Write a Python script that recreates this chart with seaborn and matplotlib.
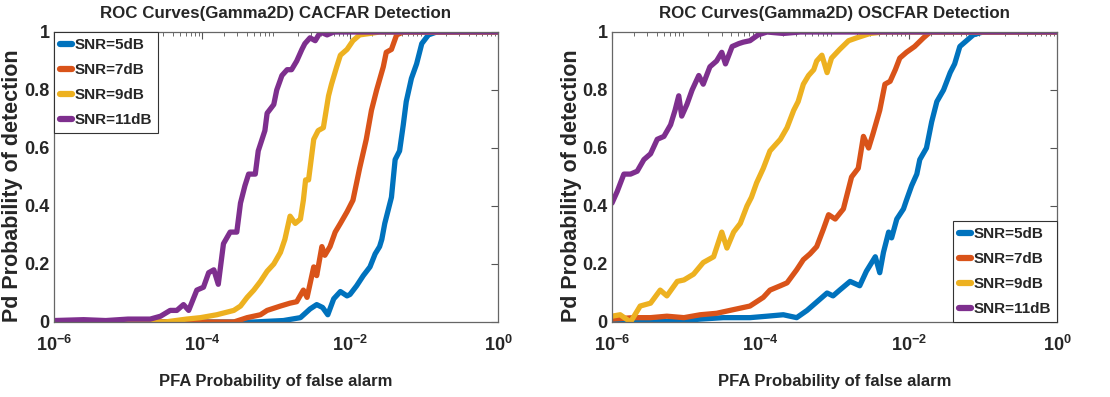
import numpy as np
import pandas as pd
import matplotlib
matplotlib.use("Agg")
import matplotlib.pyplot as plt
import seaborn as sns
from matplotlib import font_manager
from matplotlib.ticker import LogLocator, NullFormatter, LogFormatterSciNotation

# ---------------- data (log10 of PFA, Pd) ----------------
titles = ["ROC Curves(Gamma2D) CACFAR Detection", "ROC Curves(Gamma2D) OSCFAR Detection"]
labels = ["SNR=5dB", "SNR=7dB", "SNR=9dB", "SNR=11dB"]
colors = ["#0072BD", "#D95319", "#EDB120", "#7E2F8E"]
xlabel = "PFA Probability of false alarm"
ylabel = "Pd Probability of detection"
yticks = [0, 0.2, 0.4, 0.6, 0.8, 1.0]
ytick_labels = ["0", "0.2", "0.4", "0.6", "0.8", "1"]

# CA-CFAR
ca5_lx = [-6, -4.5, -3.3, -2.9, -2.67, -2.54, -2.45, -2.37, -2.30, -2.22, -2.13, -2.04, -2.00, -1.91, -1.82, -1.73,
          -1.66, -1.60, -1.57, -1.53, -1.48, -1.44, -1.39, -1.33, -1.28, -1.24, -1.17, -1.10, -1.03, -0.94, -0.83, 0]
ca5_pd = [0, 0, 0, 0.005, 0.015, 0.045, 0.06, 0.05, 0.025, 0.08, 0.105, 0.09, 0.095, 0.125, 0.16, 0.19,
          0.235, 0.26, 0.285, 0.34, 0.39, 0.43, 0.56, 0.59, 0.68, 0.76, 0.84, 0.89, 0.96, 0.99, 1.0, 1.0]
ca7_lx = [-6, -4.02, -3.57, -3.39, -3.21, -3.12, -2.94, -2.81, -2.72, -2.63, -2.58, -2.49, -2.45, -2.38, -2.34,
          -2.27, -2.20, -2.13, -2.04, -1.96, -1.87, -1.78, -1.71, -1.64, -1.55, -1.51, -1.44, -1.37, -1.28, 0]
ca7_pd = [0, 0, 0.0, 0.015, 0.025, 0.04, 0.055, 0.065, 0.07, 0.11, 0.085, 0.19, 0.16, 0.26, 0.23,
          0.26, 0.31, 0.34, 0.38, 0.42, 0.53, 0.63, 0.73, 0.80, 0.88, 0.93, 0.94, 0.99, 1.0, 1.0]
ca9_lx = [-6, -4.5, -4.21, -4.02, -3.80, -3.57, -3.48, -3.39, -3.30, -3.21, -3.12, -3.03, -2.94, -2.88, -2.81,
          -2.74, -2.67, -2.63, -2.60, -2.56, -2.49, -2.43, -2.36, -2.29, -2.25, -2.18, -2.13, -2.04, -1.96, -1.87,
          -1.73, -1.60, 0]
ca9_pd = [0, 0, 0.01, 0.015, 0.025, 0.04, 0.055, 0.085, 0.11, 0.14, 0.175, 0.20, 0.24, 0.285, 0.365,
          0.34, 0.355, 0.42, 0.49, 0.49, 0.63, 0.66, 0.67, 0.78, 0.82, 0.88, 0.92, 0.94, 0.97, 0.99,
          0.995, 1.0, 1.0]
ca11_lx = [-6, -5.6, -5.3, -5.0, -4.70, -4.56, -4.43, -4.34, -4.25, -4.18, -4.07, -3.98, -3.91, -3.84, -3.78,
           -3.71, -3.62, -3.53, -3.48, -3.42, -3.37, -3.28, -3.24, -3.15, -3.12, -3.03, -2.99, -2.92, -2.85,
           -2.79, -2.72, -2.65, -2.61, -2.54, -2.47, -2.40, -2.31, -2.22, 0]
ca11_pd = [0.005, 0.008, 0.005, 0.01, 0.01, 0.02, 0.04, 0.04, 0.06, 0.04, 0.11, 0.12, 0.17, 0.18, 0.13,
           0.27, 0.31, 0.31, 0.41, 0.47, 0.51, 0.51, 0.59, 0.66, 0.72, 0.75, 0.80, 0.85, 0.87,
           0.87, 0.90, 0.94, 0.96, 0.98, 0.97, 1.0, 0.99, 1.0, 1.0]

# OS-CFAR
os5_lx = [-6, -5.48, -5.03, -4.81, -4.50, -4.14, -3.91, -3.69, -3.51, -3.37, -3.19, -3.10, -3.02, -2.93, -2.79,
          -2.66, -2.57, -2.45, -2.39, -2.34, -2.27, -2.23, -2.16, -2.07, -2.03, -1.96, -1.89, -1.85, -1.76, -1.69,
          -1.62, -1.53, -1.44, -1.38, -1.31, -1.22, -1.13, -1.0, 0]
os5_pd = [0, 0, 0.005, 0.01, 0.015, 0.015, 0.02, 0.025, 0.015, 0.04, 0.08, 0.10, 0.09, 0.11, 0.14,
          0.125, 0.175, 0.225, 0.17, 0.24, 0.31, 0.29, 0.355, 0.39, 0.42, 0.47, 0.51, 0.56, 0.60, 0.69,
          0.76, 0.80, 0.86, 0.89, 0.95, 0.97, 0.99, 1.0, 1.0]
os7_lx = [-6, -5.71, -5.48, -5.26, -5.03, -4.81, -4.59, -4.32, -4.14, -3.96, -3.87, -3.73, -3.64, -3.51, -3.42,
          -3.33, -3.24, -3.15, -3.08, -2.99, -2.88, -2.84, -2.77, -2.68, -2.61, -2.54, -2.48, -2.39, -2.32, -2.25,
          -2.18, -2.12, -2.03, -1.92, -1.80, -1.71, 0]
os7_pd = [0.01, 0.015, 0.015, 0.02, 0.015, 0.025, 0.03, 0.045, 0.055, 0.085, 0.11, 0.125, 0.135, 0.18, 0.215,
          0.235, 0.26, 0.32, 0.37, 0.355, 0.39, 0.43, 0.50, 0.53, 0.64, 0.60, 0.65, 0.73, 0.82, 0.83,
          0.87, 0.91, 0.93, 0.95, 0.98, 1.0, 1.0]
os9_lx = [-6, -5.89, -5.75, -5.62, -5.48, -5.35, -5.26, -5.12, -5.03, -4.90, -4.77, -4.63, -4.52, -4.45, -4.36,
          -4.27, -4.18, -4.12, -4.05, -3.96, -3.87, -3.73, -3.64, -3.55, -3.49, -3.42, -3.35, -3.28, -3.24,
          -3.17, -3.10, -3.04, -2.93, -2.81, -2.70, -2.52, -2.34, 0]
os9_pd = [0.02, 0.025, 0.0, 0.055, 0.065, 0.11, 0.09, 0.14, 0.145, 0.165, 0.205, 0.225, 0.31, 0.255, 0.31,
          0.34, 0.40, 0.43, 0.48, 0.53, 0.59, 0.63, 0.67, 0.73, 0.76, 0.82, 0.85, 0.87, 0.90,
          0.92, 0.86, 0.91, 0.94, 0.97, 0.98, 0.995, 1.0, 1.0]
os11_lx = [-6, -5.93, -5.84, -5.75, -5.66, -5.57, -5.48, -5.39, -5.30, -5.21, -5.15, -5.10, -5.06, -4.99, -4.92,
           -4.83, -4.77, -4.68, -4.59, -4.52, -4.47, -4.38, -4.29, -4.23, -4.14, -4.03, -3.91, -3.69, -3.46, 0]
os11_pd = [0.41, 0.45, 0.51, 0.51, 0.52, 0.56, 0.58, 0.63, 0.64, 0.68, 0.73, 0.78, 0.71, 0.75, 0.80,
           0.85, 0.82, 0.88, 0.90, 0.93, 0.89, 0.95, 0.96, 0.965, 0.97, 0.99, 1.0, 0.995, 1.0, 1.0]

panels = [
    [(ca5_lx, ca5_pd), (ca7_lx, ca7_pd), (ca9_lx, ca9_pd), (ca11_lx, ca11_pd)],
    [(os5_lx, os5_pd), (os7_lx, os7_pd), (os9_lx, os9_pd), (os11_lx, os11_pd)],
]
legend_locs = ["upper left", "lower right"]

# ---------------- style ----------------
sns.set_theme(style="white")
names = {f.name for f in font_manager.fontManager.ttflist}
narrow = "Liberation Sans Narrow" if "Liberation Sans Narrow" in names else "Liberation Sans"
plt.rcParams["font.family"] = [narrow, "DejaVu Sans"]
plt.rcParams["font.weight"] = "bold"
plt.rcParams["axes.labelweight"] = "bold"
plt.rcParams["axes.titleweight"] = "bold"

fig = plt.figure(figsize=(11.1, 3.97), dpi=100)
ax_rects = [[54 / 1110, 75 / 397, 444 / 1110, 290 / 397],
            [612 / 1110, 75 / 397, 445 / 1110, 290 / 397]]
ylabel_x = [-0.07, -0.067]

for i, rect in enumerate(ax_rects):
    ax = fig.add_axes(rect)
    frames = []
    for (lx, pdv), lab in zip(panels[i], labels):
        frames.append(pd.DataFrame({"pfa": 10.0 ** np.asarray(lx, dtype=float),
                                    "pd": pdv, "snr": lab}))
    df = pd.concat(frames, ignore_index=True)
    sns.lineplot(data=df, x="pfa", y="pd", hue="snr", hue_order=labels,
                 palette=colors, estimator=None, sort=False, linewidth=3.8,
                 ax=ax, legend=False)
    ax.set_xscale("log")
    ax.set_xlim(1e-6, 1)
    ax.set_ylim(0, 1)
    ax.set_xticks([1e-6, 1e-4, 1e-2, 1])
    ax.xaxis.set_major_formatter(LogFormatterSciNotation())
    ax.xaxis.set_minor_locator(LogLocator(base=10, subs=np.arange(2, 10), numticks=20))
    ax.xaxis.set_minor_formatter(NullFormatter())
    ax.set_yticks(yticks)
    ax.set_yticklabels(ytick_labels)
    ax.tick_params(which="both", direction="in", top=True, right=True, color="#555555")
    ax.tick_params(which="major", length=5, width=0.8, labelsize=13)
    ax.tick_params(axis="x", which="major", pad=9)
    ax.tick_params(axis="y", which="major", pad=3)
    ax.tick_params(which="minor", length=3, width=0.6)
    for lab in ax.get_xticklabels() + ax.get_yticklabels():
        lab.set_fontweight("bold")
    for sp in ax.spines.values():
        sp.set_color("#666666")
        sp.set_linewidth(0.9)
    ax.set_title(titles[i], fontsize=12.2, fontweight="bold", pad=10)
    ax.set_xlabel(xlabel, fontsize=12, fontweight="bold", labelpad=14)
    ax.set_ylabel(ylabel, fontsize=15.5, fontweight="bold",
                  family=["Liberation Sans", "DejaVu Sans"])
    ax.yaxis.set_label_coords(ylabel_x[i], 0.47)
    handles = [plt.Line2D([], [], color=c, lw=4.5) for c in colors]
    leg = ax.legend(handles, labels, loc=legend_locs[i], fontsize=11,
                    handlelength=0.8, handletextpad=0.15, borderpad=0.4,
                    labelspacing=0.72, borderaxespad=0.0, fancybox=False,
                    framealpha=1, edgecolor="#333333")
    leg.get_frame().set_linewidth(0.8)
    for t in leg.get_texts():
        t.set_fontweight("bold")

fig.savefig("out.png", dpi=100)
